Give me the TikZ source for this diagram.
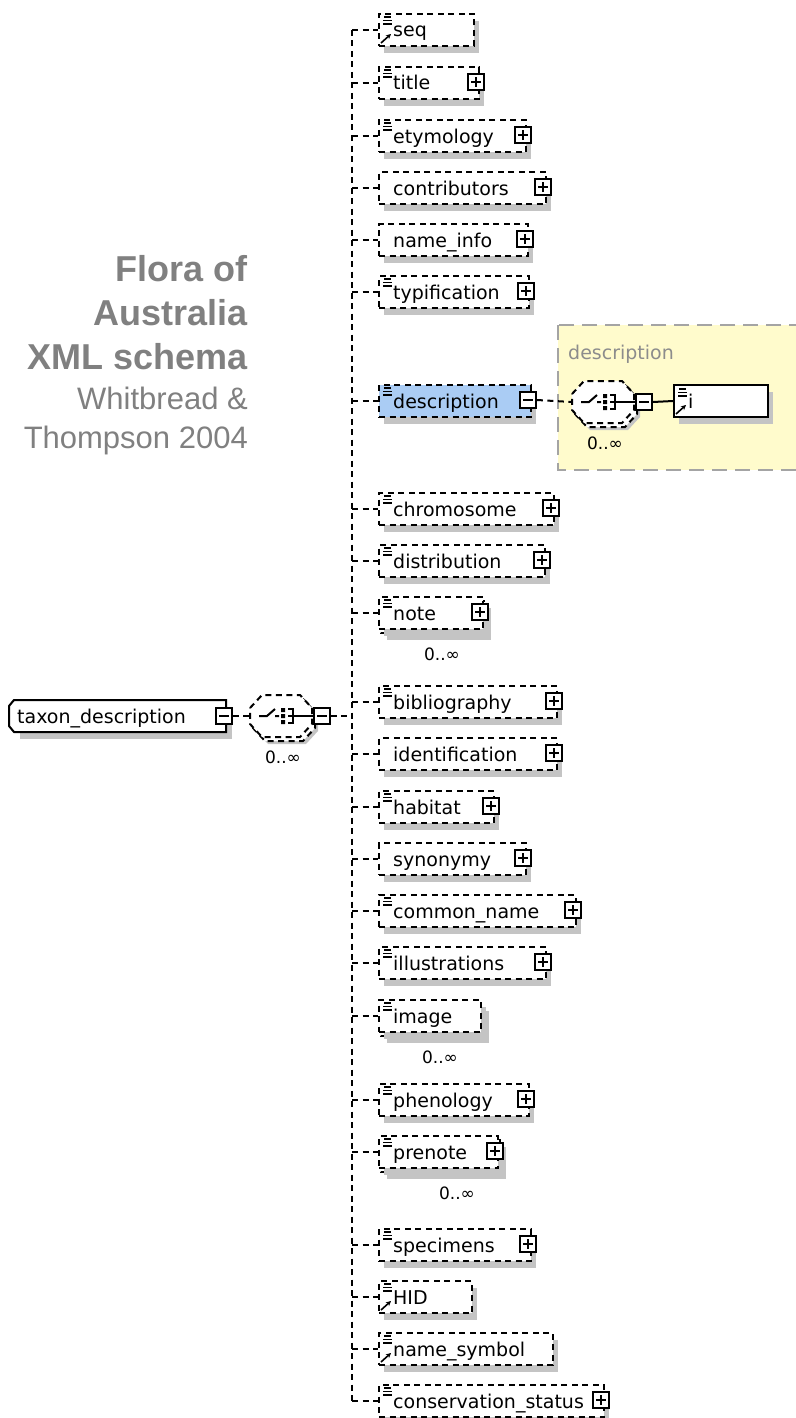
\documentclass[tikz,border=0pt]{standalone}
\usepackage{fontspec}
\setmainfont{DejaVu Sans}
\newfontfamily\titlefont{Liberation Sans}
\usetikzlibrary{positioning, arrows.meta}

\definecolor{shadowgray}{HTML}{C4C4C4}
\definecolor{popupfill}{HTML}{FFFBCC}
\definecolor{popupline}{HTML}{A4A4A4}
\definecolor{selblue}{HTML}{AACCF4}
\definecolor{titlegray}{HTML}{808080}
\definecolor{poptext}{HTML}{8C8C8C}

\tikzset{
  dashline/.style={line width=2pt, dash pattern=on 6pt off 4.5pt},
  elem/.style={draw, dashline, minimum height=32pt, inner sep=0pt},
  elemsolid/.style={draw, line width=2pt, fill=white, minimum height=32pt, inner sep=0pt},
  elemtext/.style={inner sep=0pt, font=\fontsize{19}{22}\selectfont},
  togglebox/.style={draw, solid, fill=white, line width=1.8pt, minimum size=16pt, inner sep=0pt},
  plusbox/.style={togglebox, path picture={
    \draw[solid, line width=1.8pt] ([xshift=-5pt]path picture bounding box.center) -- ([xshift=5pt]path picture bounding box.center)
      ([yshift=-5pt]path picture bounding box.center) -- ([yshift=5pt]path picture bounding box.center);}},
  minusbox/.style={togglebox, path picture={
    \draw[solid, line width=1.8pt] ([xshift=-5pt]path picture bounding box.center) -- ([xshift=5pt]path picture bounding box.center);}},
  dropshade/.style={fill=shadowgray},
  iconline/.style={line width=1.6pt, solid},
  occurs/.style={inner sep=0pt, font=\fontsize{17}{20}\selectfont},
  bigtitle/.style={inner sep=0pt, anchor=base east, text=titlegray, font=\titlefont\bfseries\fontsize{36}{40}\selectfont},
  subtitle/.style={inner sep=0pt, anchor=base east, text=titlegray, font=\titlefont\fontsize{31}{36}\selectfont},
}

% outline of a sequence compositor, centre at the origin
\newcommand{\compoctagon}{(-31,-8) -- (-19,-21) -- (19,-21) -- (31,-8) -- (31,8) -- (19,21) -- (-19,21) -- (-31,8) -- cycle}

% sequence compositor 0..oo, #1 = name of its centre
\newcommand{\seqcompositor}[1]{%
  \begin{scope}[shift={(#1)}]
    \fill[dropshade, shift={(6,7)}] \compoctagon;
    \draw[dashline, fill=white, shift={(3,4)}] \compoctagon;
    \draw[dashline, fill=white] \compoctagon;
    \coordinate (#1-w) at (-31,0);
    \draw[iconline, line width=2pt] (-22,0) -- (-14,0) -- (-6,-7) (-6,0) -- (-2,0);
    \fill (0,-8) rectangle (4,-4) (0,-2) rectangle (4,2) (0,4) rectangle (4,8);
    \draw[iconline, line width=2pt] (7,-7) -- (12,-7) -- (12,7) -- (7,7) (7,0) -- (33,0);
    \node[minusbox] (#1-m) at (41,0) {};
    \node[occurs] (#1-o) at (2,41) {0..∞};
  \end{scope}}

\begin{document}
\begin{tikzpicture}[x=1pt, y=-1pt]
\useasboundingbox (0,0) rectangle (795,1418);

% title
\node[bigtitle] (ttl1) at (248,281) {Flora of};
\node[bigtitle] (ttl2) at (248,325) {Australia};
\node[bigtitle] (ttl3) at (248,369) {XML schema};
\node[subtitle] (ttl4) at (248,409) {Whitbread \&};
\node[subtitle] (ttl5) at (248,448) {Thompson 2004};

% expanded description
\filldraw[fill=popupfill, draw=popupline, line width=2pt, dash pattern=on 15pt off 8pt] (558,325) rectangle (812,470);
\node[elemtext, anchor=base west, text=poptext] (poptitle) at (568,359) {description};

% root element
\fill[dropshade] (20,707) rectangle (232,739);
\draw[line width=2pt, fill=white] (14,700) -- (226,700) -- (226,732) -- (14,732) -- (9,726) -- (9,706) -- cycle;
\node[elemtext, anchor=base west] (root) at (17,723) {taxon\_description};
\node[minusbox] (root-m) at (224,716) {};

\coordinate (seqA) at (281,716);
\seqcompositor{seqA}
\draw[dashline] (root-m.east) -- (seqA-w);
\coordinate (tkroot) at (352,716);
\draw[dashline] (seqA-m.east) -- (tkroot);

% children of the sequence
\foreach \lbl/\y/\r/\ic/\tg/\m/\fc [count=\i] in {
  seq/30/473/2/0/0/white,
  title/83/478/1/1/0/white,
  etymology/136/525/1/1/0/white,
  contributors/188/545/0/1/0/white,
  name\_info/240/527/0/1/0/white,
  typification/292/528/1/1/0/white,
  description/401/530/1/2/0/selblue,
  chromosome/509/553/1/1/0/white,
  distribution/561/544/1/1/0/white,
  note/613/482/1/1/1/white,
  bibliography/702/556/1/1/0/white,
  identification/754/556/0/1/0/white,
  habitat/807/493/1/1/0/white,
  synonymy/859/525/0/1/0/white,
  common\_name/911/575/1/1/0/white,
  illustrations/963/545/1/1/0/white,
  image/1016/480/1/0/1/white,
  phenology/1100/528/1/1/0/white,
  prenote/1152/497/1/1/1/white,
  specimens/1245/530/1/1/0/white,
  HID/1297/471/2/0/0/white,
  name\_symbol/1349/552/2/0/0/white,
  conservation\_status/1401/603/1/1/0/white}
{
  \ifnum\m=1
    \fill[dropshade] (387,\y-5) rectangle (\r+9,\y+27);
    \draw[dashline, fill=white] (381,\y-12) rectangle (\r+3,\y+20);
    \node[occurs] (oc\i) at (\r-40,\y+41) {0..∞};
  \fi
  \fill[dropshade] (384,\y-9) rectangle (\r+6,\y+23);
  \pgfmathsetmacro\w{\r-378}
  \node[elem, fill=\fc, minimum width=\w pt, anchor=west] (el\i) at (378,\y) {};
  \node[elemtext, anchor=base west] (lb\i) at (393,\y+7) {\lbl};
  \ifnum\ic>0
    \draw[iconline] (384,\y-13) -- (391,\y-13) (383,\y-9.5) -- (392,\y-9.5) (383,\y-6) -- (392,\y-6);
  \fi
  \ifnum\ic=2
    \draw[iconline, -{Stealth[length=5pt, width=5pt]}] (381,\y+13) -- (391,\y+4);
  \fi
  \ifcase\tg
  \or \node[plusbox] (el\i-m) at (\r-2,\y-1) {};
  \or \node[minusbox] (el\i-m) at (\r-2,\y-1) {};
  \fi
  \coordinate (tk\i) at (352,\y);
  \draw[dashline] (tk\i) -- (el\i.west);
}
\draw[dashline] (tk1) -- (tk23);

% content of description
\coordinate (seqB) at (603,402);
\seqcompositor{seqB}
\draw[dashline] (el7-m.east) -- (seqB-w);
\fill[dropshade] (679,392) rectangle (773,424);
\node[elemsolid, minimum width=94pt, anchor=west] (ielem) at (673,401) {};
\draw[iconline] (679,389) -- (686,389) (678,392.5) -- (687,392.5) (678,396) -- (687,396);
\draw[iconline, -{Stealth[length=5pt, width=5pt]}] (676,414) -- (686,405);
\node[elemtext, anchor=base west] (ilbl) at (688,408) {i};
\draw[line width=2pt] (seqB-m.east) -- (ielem.west);
\end{tikzpicture}
\end{document}
